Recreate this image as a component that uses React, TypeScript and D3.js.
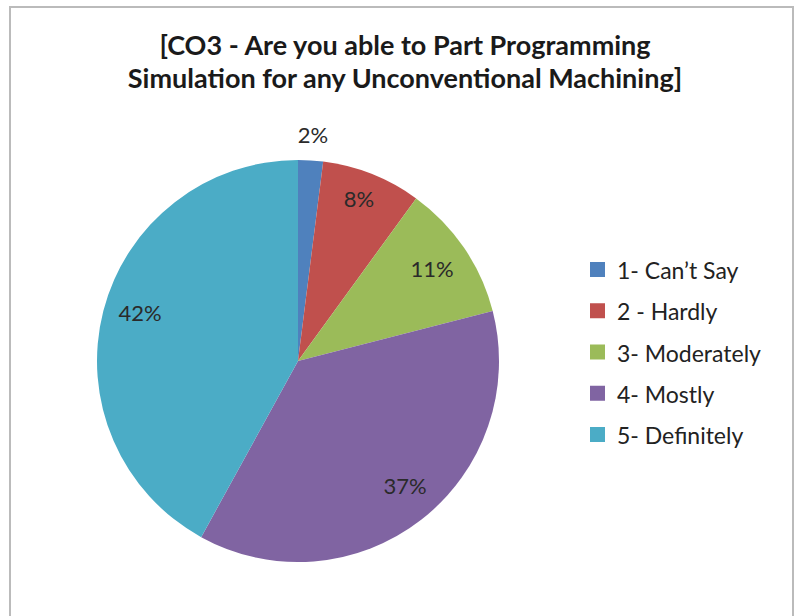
import React from "react";
import * as d3 from "d3";

const categories = ["1- Can\u2019t Say", "2 - Hardly", "3- Moderately", "4- Mostly", "5- Definitely"];
const values = [2, 8, 11, 37, 42];
const colors = ["#4F81BD", "#C0504D", "#9BBB59", "#8064A2", "#4BACC6"];
const titleLines = ["[CO3 - Are you able to Part Programming", "Simulation for any Unconventional Machining]"];

// label layout (radius factor, angle offset in degrees)
const labelR = [1.13, 0.862, 0.81, 0.815, 0.823];
const labelDA = [0.2, -1.0, -0.3, -3.0, 2.8];

export default function App() {
  const W = 804, H = 616;
  const cx = 298, cy = 361, r = 201;
  const pie = d3.pie<number>().sort(null).value((d) => d);
  const arcs = pie(values);
  const arcGen = d3.arc<d3.PieArcDatum<number>>().innerRadius(0).outerRadius(r);
  const font = "Lato, 'Open Sans', sans-serif";
  const legendY = d3.scalePoint<number>().domain(d3.range(categories.length)).range([270, 435]);
  return (
    <div style={{ position: "absolute", left: 0, top: 0 }}>
      <svg width={W} height={H} style={{ display: "block", background: "#fff" }}>
        <rect x={10} y={7} width={783} height={620} fill="#fff" stroke="#BBBBBB" strokeWidth={2} />
        {titleLines.map((t, i) => (
          <text key={i} x={405} y={55 + i * 33} textAnchor="middle" fontFamily={font} fontWeight={700} fontSize={27} fill="#1a1a1a">
            {t}
          </text>
        ))}
        <g transform={`translate(${cx},${cy})`}>
          {arcs.map((a, i) => (
            <path key={i} d={arcGen(a) || ""} fill={colors[i]} />
          ))}
          {arcs.map((a, i) => {
            const ang = (a.startAngle + a.endAngle) / 2 + (labelDA[i] * Math.PI) / 180;
            const rr = r * labelR[i];
            const x = Math.sin(ang) * rr;
            const y = -Math.cos(ang) * rr;
            return (
              <text key={i} x={x} y={y} textAnchor="middle" dominantBaseline="central" fontFamily={font} fontSize={22} fill="#2a2a2a">
                {values[i]}%
              </text>
            );
          })}
        </g>
        {categories.map((c, i) => (
          <g key={i} transform={`translate(590,${legendY(i)})`}>
            <rect x={0} y={-8} width={15} height={15} fill={colors[i]} />
            <text x={27} y={0} dominantBaseline="central" fontFamily={font} fontSize={23} fill="#222">
              {c}
            </text>
          </g>
        ))}
      </svg>
    </div>
  );
}
